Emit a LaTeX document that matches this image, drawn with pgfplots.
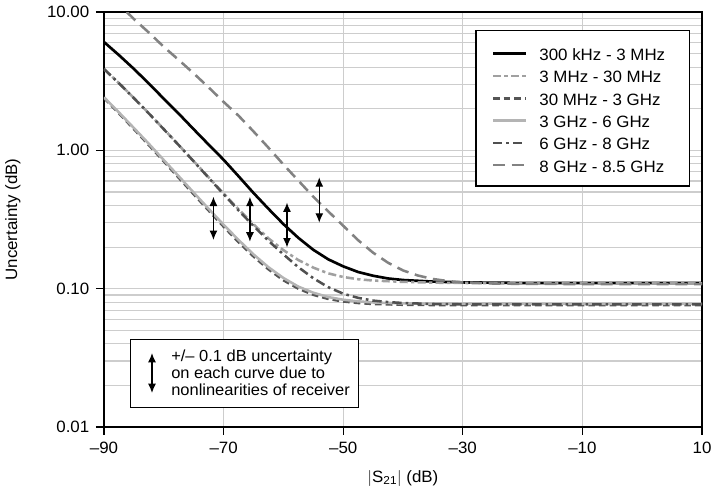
\documentclass[border=0pt]{standalone}
\usepackage{fontspec}
\setmainfont{Liberation Sans}[FakeStretch=1.03]
\usepackage{pgfplots}
\pgfplotsset{compat=1.18}
\usetikzlibrary{arrows.meta}
\definecolor{cA}{RGB}{160,160,160}
\definecolor{cB}{RGB}{85,85,85}
\definecolor{cC}{RGB}{180,180,180}
\definecolor{cD}{RGB}{80,80,80}
\definecolor{cE}{RGB}{130,130,130}
\definecolor{gridc}{RGB}{205,205,205}
\newcommand{\legent}[1]{\rule[-3pt]{0pt}{15pt}\hspace{8.8pt}#1}
\begin{document}
\begin{tikzpicture}
\useasboundingbox (-78pt,-50.25pt) rectangle (456.75pt,320.25pt);
\begin{axis}[
  at={(0,0)}, anchor=south west,
  scale only axis, width=448.5pt, height=311.25pt,
  ymode=log, xmin=-90, xmax=10, ymin=0.01, ymax=10,
  xtick={-90,-70,-50,-30,-10,10},
  xticklabels={–90,–70,–50,–30,–10,10},
  ytick={0.01,0.1,1,10},
  yticklabels={0.01,0.10,1.00,10.00},
  minor ytick={0.02,0.03,0.04,0.05,0.06,0.07,0.08,0.09,0.2,0.3,0.4,0.5,0.6,0.7,0.8,0.9,2,3,4,5,6,7,8,9},
  xmajorgrids, ymajorgrids, yminorgrids,
  major grid style={draw=gridc, line width=0.8pt},
  minor grid style={draw=gridc, line width=0.8pt},
  axis line style={line width=1.2pt},
  tick align=outside, tick pos=left,
  major tick length=6pt, minor tick length=0pt,
  tick style={black, line width=0.8pt},
  font=\fontsize{12.3}{14}\selectfont,
  xticklabel style={yshift=-1.5pt},
  yticklabel style={xshift=-1.5pt},
  xlabel={$|$S\textsubscript{21}$|$ (dB)},
  ylabel={Uncertainty (dB)},
  xlabel style={at={(axis description cs:0.5,-0.1229)}, anchor=center},
  ylabel style={at={(axis description cs:-0.1522,0.5)}, anchor=center},
  legend style={at={(rel axis cs:0.6483,0.9212)}, anchor=north west,
    draw=none, fill=none, inner sep=0pt, outer sep=0pt,
    row sep=3.2pt, nodes={inner sep=0pt, outer sep=0pt}, font=\fontsize{12.3}{14}\selectfont},
  legend cell align=left,
  legend image code/.code={\draw[#1] (0pt,0pt) -- (25pt,0pt);},
]
\addplot[black, line width=2pt] coordinates {(-90,6.07)(-87.5,4.88)(-85,3.88)(-82.5,3.04)(-80,2.36)(-77.5,1.84)(-75,1.42)(-72.5,1.10)(-70,0.855)(-67.5,0.650)(-65,0.492)(-62.5,0.378)(-60,0.293)(-57.5,0.233)(-55,0.191)(-52.5,0.163)(-50,0.145)(-47.5,0.132)(-45,0.124)(-42.5,0.1185)(-40,0.1155)(-35,0.1125)(-30,0.111)(-20,0.110)(-10,0.110)(0,0.110)(10,0.110)};
\addlegendentry{\legent{300 kHz - 3 MHz}}
\addplot[cA, line width=1.9pt, dash pattern=on 6pt off 2.5pt on 2.5pt off 2.5pt] coordinates {(-90,3.87)(-87.5,3.06)(-85,2.39)(-82.5,1.85)(-80,1.425)(-77.5,1.093)(-75,0.835)(-72.5,0.638)(-70,0.488)(-67.5,0.375)(-65,0.292)(-62.5,0.231)(-60,0.190)(-57.5,0.161)(-55,0.142)(-52.5,0.129)(-50,0.1215)(-47.5,0.117)(-45,0.1145)(-40,0.112)(-35,0.1105)(-30,0.110)(-20,0.109)(10,0.109)};
\addlegendentry{\legent{3 MHz - 30 MHz}}
\addplot[cB, line width=1.9pt, dash pattern=on 5pt off 3pt] coordinates {(-90,2.39)(-87.5,1.85)(-85,1.423)(-82.5,1.091)(-80,0.832)(-77.5,0.633)(-75,0.481)(-72.5,0.367)(-70,0.281)(-67.5,0.217)(-65,0.171)(-62.5,0.138)(-60,0.115)(-57.5,0.100)(-55,0.0903)(-52.5,0.0843)(-50,0.0808)(-47.5,0.0788)(-45,0.0775)(-40,0.0765)(-35,0.0762)(-20,0.076)(10,0.076)};
\addlegendentry{\legent{30 MHz - 3 GHz}}
\addplot[cC, line width=1.9pt] coordinates {(-90,2.42)(-87.5,1.88)(-85,1.45)(-82.5,1.115)(-80,0.85)(-77.5,0.65)(-75,0.495)(-72.5,0.378)(-70,0.290)(-67.5,0.225)(-65,0.177)(-62.5,0.143)(-60,0.1195)(-57.5,0.1035)(-55,0.0935)(-52.5,0.087)(-50,0.0832)(-47.5,0.081)(-45,0.0795)(-40,0.0783)(-35,0.078)(-20,0.0778)(10,0.0778)};
\addlegendentry{\legent{3 GHz - 6 GHz}}
\addplot[cD, line width=1.9pt, dash pattern=on 7pt off 3pt on 2pt off 3pt] coordinates {(-90,3.87)(-87.5,3.055)(-85,2.385)(-82.5,1.848)(-80,1.42)(-77.5,1.09)(-75,0.832)(-72.5,0.633)(-70,0.482)(-67.5,0.368)(-65,0.284)(-62.5,0.222)(-60,0.177)(-57.5,0.143)(-55,0.119)(-52.5,0.1025)(-50,0.092)(-47.5,0.0858)(-45,0.082)(-42.5,0.080)(-40,0.0788)(-35,0.0775)(-30,0.0771)(-20,0.077)(10,0.077)};
\addlegendentry{\legent{6 GHz - 8 GHz}}
\addplot[cE, line width=1.9pt, dash pattern=on 9pt off 5pt] coordinates {(-86.2,10)(-85,8.9)(-82.5,7.1)(-80,5.6)(-77.5,4.5)(-75,3.6)(-72.5,2.85)(-70,2.24)(-67.5,1.78)(-65,1.37)(-62.5,1.045)(-60,0.79)(-57.5,0.604)(-55,0.462)(-52.5,0.362)(-50,0.285)(-47.5,0.224)(-45,0.182)(-42.5,0.154)(-40,0.1355)(-37.5,0.1245)(-35,0.1175)(-32.5,0.1135)(-30,0.111)(-25,0.109)(-20,0.1083)(-10,0.108)(10,0.108)};
\addlegendentry{\legent{8 GHz - 8.5 GHz}}
% uncertainty arrows
\addplot[forget plot, black, line width=0.9pt, {Latex[length=7pt,width=6pt]}-{Latex[length=7pt,width=6pt]}] coordinates {(-71.7,0.225)(-71.7,0.462)};
\addplot[forget plot, black, line width=0.9pt, {Latex[length=7pt,width=6pt]}-{Latex[length=7pt,width=6pt]}] coordinates {(-65.6,0.219)(-65.6,0.461)};
\addplot[forget plot, black, line width=0.9pt, {Latex[length=7pt,width=6pt]}-{Latex[length=7pt,width=6pt]}] coordinates {(-59.4,0.199)(-59.4,0.419)};
\addplot[forget plot, black, line width=0.9pt, {Latex[length=7pt,width=6pt]}-{Latex[length=7pt,width=6pt]}] coordinates {(-54.0,0.300)(-54.0,0.638)};
% legend frame
\draw[black, line width=0.8pt, fill=white] (rel axis cs:0.6221,0.955) rectangle (rel axis cs:0.9788,0.5807);
% note box
\node[draw=black, line width=0.8pt, fill=white, anchor=south west, minimum width=171pt, minimum height=51.2pt, inner sep=0pt] (note) at ([xshift=19.5pt,yshift=14pt]rel axis cs:0,0) {};
\draw[line width=0.9pt, {Latex[length=7pt,width=6pt]}-{Latex[length=7pt,width=6pt]}] ([xshift=16.5pt,yshift=-10.5pt]note.north west) -- ([xshift=16.5pt,yshift=-40.5pt]note.north west);
\node[anchor=north west, align=left, inner sep=0pt, font=\fontsize{12}{12.75}\selectfont] at ([xshift=30.75pt,yshift=-7.8pt]note.north west) {+/– 0.1 dB uncertainty\\on each curve due to\\nonlinearities of receiver};
\end{axis}
\end{tikzpicture}
\end{document}
